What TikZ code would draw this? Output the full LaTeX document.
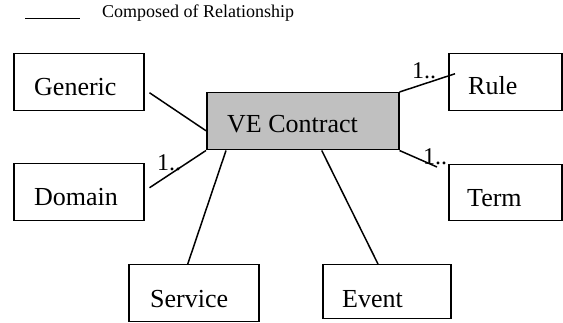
\documentclass[tikz,border=0pt]{standalone}
\usepackage{fontspec}
\setmainfont{Liberation Serif}
\usetikzlibrary{calc}
\definecolor{vegray}{HTML}{C0C0C0}
\begin{document}
\begin{tikzpicture}[x=1pt,y=-1pt,
  box/.style={draw=black, line width=1.5pt, rectangle, inner sep=0pt, anchor=north west},
  txt/.style={font=\fontsize{26}{30}\selectfont, inner sep=0pt, anchor=base west},
  mult/.style={font=\fontsize{24}{28}\selectfont, inner sep=0pt, anchor=base west},
  conn/.style={line width=1.5pt}]
\useasboundingbox (0,0) rectangle (563,323);
% legend
\coordinate (lega) at (25,18.5);
\coordinate (legb) at (80,18.5);
\draw[line width=1.8pt] (lega) -- (legb);
\node[inner sep=0pt, anchor=base west, font=\fontsize{18}{21}\selectfont] (legtext) at (102,18) {Composed of Relationship};
% boxes
\node[box, minimum width=130pt, minimum height=57pt] (generic) at (13,53) {};
\node[box, minimum width=130pt, minimum height=57pt] (domain) at (13,163) {};
\node[box, fill=vegray, minimum width=192pt, minimum height=57pt] (ve) at (206,92) {};
\node[box, minimum width=113pt, minimum height=57pt] (rule) at (448,53) {};
\node[box, minimum width=113pt, minimum height=56pt] (term) at (448,164) {};
\node[box, minimum width=130pt, minimum height=57pt] (service) at (128,264) {};
\node[box, minimum width=128pt, minimum height=54pt] (event) at (322,264) {};
% texts
\node[txt] (tgeneric) at ($(generic.north west)+(21,43)$) {Generic};
\node[txt] (tdomain) at ($(domain.north west)+(21,43)$) {Domain};
\node[txt] (tve) at ($(ve.north west)+(21,41)$) {VE Contract};
\node[txt] (trule) at ($(rule.north west)+(20,42)$) {Rule};
\node[txt] (tterm) at ($(term.north west)+(19,43)$) {Term};
\node[txt] (tservice) at ($(service.north west)+(22,44)$) {Service};
\node[txt] (tevent) at ($(event.north west)+(20,44)$) {Event};
% connectors
\draw[conn] ($(generic.east)+(5,10.5)$) -- ($(ve.west)+(0,9.5)$);
\draw[conn] ($(domain.east)+(5,-4.5)$) -- (ve.south west);
\draw[conn] (ve.north east) -- ($(rule.west)+(7,-8.5)$);
\draw[conn] (ve.south east) -- ($(term.north west)+(-11,3)$);
\draw[conn] ($(ve.south west)+(20,0)$) -- ($(service.north)+(-6,0)$);
\draw[conn] ($(ve.south)+(19,0)$) -- ($(event.north west)+(56,0)$);
% multiplicities
\node[mult] (mdomain) at (157,171) {1..};
\node[mult] (mrule) at (412,79) {1..};
\node[mult] (mterm) at (423,165) {1..};
\end{tikzpicture}
\end{document}
